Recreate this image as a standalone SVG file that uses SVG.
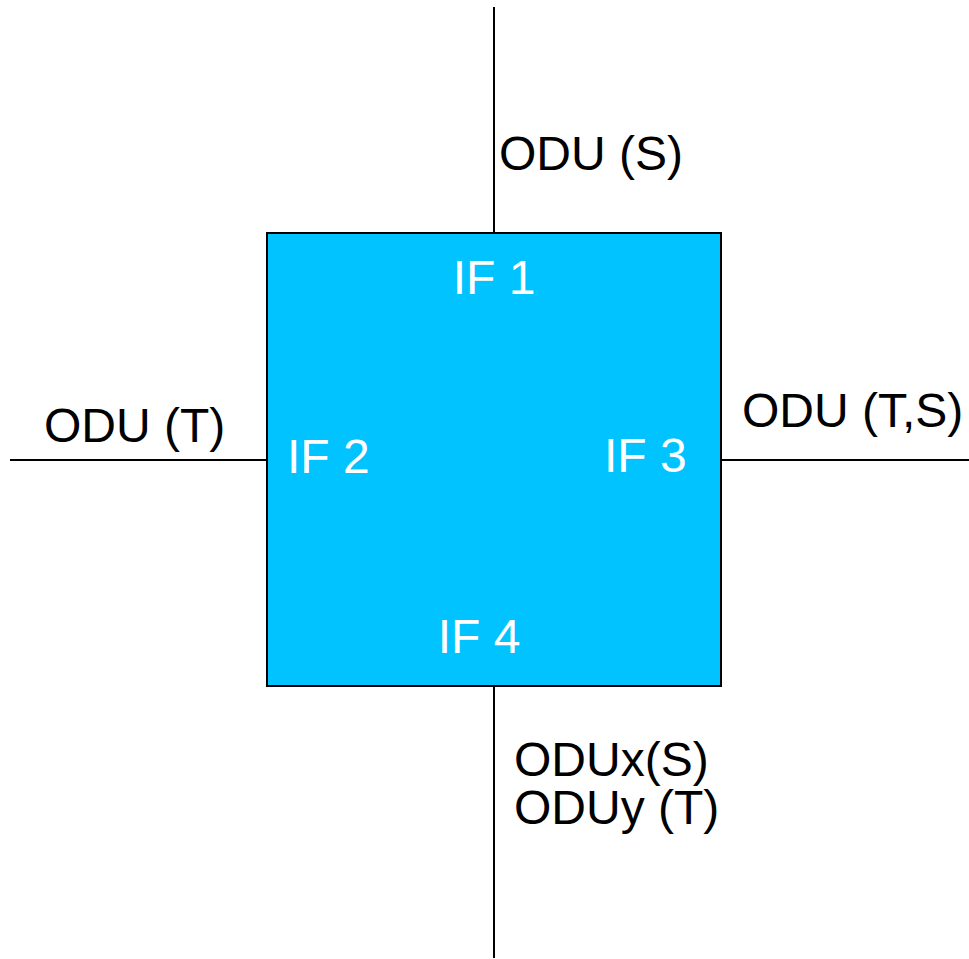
<svg xmlns="http://www.w3.org/2000/svg" width="969" height="959" viewBox="0 0 969 959">
<style>
.lbl{font-family:"Liberation Sans",Arial,sans-serif;font-size:48px;fill:#000}
.if{font-family:"Liberation Sans",Arial,sans-serif;font-size:48px;fill:#fff}
.ln{stroke:#000;stroke-width:2;fill:none}
</style>
<rect width="969" height="959" fill="#fff"/>
<g id="connectors">
<line class="ln" x1="494" y1="7" x2="494" y2="233"/>
<line class="ln" x1="494" y1="686" x2="494" y2="958"/>
<line class="ln" x1="10" y1="460" x2="267" y2="460"/>
<line class="ln" x1="721" y1="460" x2="969" y2="460"/>
</g>
<g id="node-box">
<rect x="267" y="233" width="454" height="453" fill="#00C3FF" stroke="#000" stroke-width="2"/>
<text class="if" x="494" y="294" text-anchor="middle">IF 1</text>
<text class="if" x="287" y="473">IF 2</text>
<text class="if" x="604" y="472">IF 3</text>
<text class="if" x="479" y="653" text-anchor="middle">IF 4</text>
</g>
<g id="labels">
<text class="lbl" x="499" y="170">ODU (S)</text>
<text class="lbl" x="44" y="442">ODU (T)</text>
<text class="lbl" x="742" y="427">ODU (T,S)</text>
<text class="lbl" x="514" y="776">ODUx(S)</text>
<text class="lbl" x="514" y="824">ODUy (T)</text>
</g>
</svg>
